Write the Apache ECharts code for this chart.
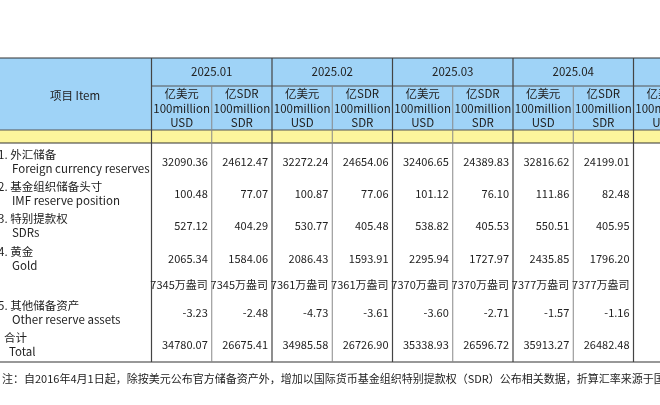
<!DOCTYPE html>
<html><head><meta charset="utf-8">
<script src="https://cdn.jsdelivr.net/npm/echarts@6/dist/echarts.min.js"></script>
<style>html,body{margin:0;padding:0;background:#fff}#c{width:660px;height:405px}</style>
</head><body><div id="c"></div>
<script>
const months = ['2025.01','2025.02','2025.03','2025.04','2025.05'];
const unitUSD = ['亿美元','100million','USD'];
const unitSDR = ['亿SDR','100million','SDR'];
const itemHeader = '项目 Item';
const rowLabelsCN = ['1. 外汇储备','2. 基金组织储备头寸','3. 特别提款权','4. 黄金','','5. 其他储备资产','合计'];
const rowLabelsEN = ['Foreign currency reserves','IMF reserve position','SDRs','Gold','','Other reserve assets','Total'];
const foreignReserves = ['32090.36','24612.47','32272.24','24654.06','32406.65','24389.83','32816.62','24199.01'];
const imfPosition = ['100.48','77.07','100.87','77.06','101.12','76.10','111.86','82.48'];
const sdrs = ['527.12','404.29','530.77','405.48','538.82','405.53','550.51','405.95'];
const gold = ['2065.34','1584.06','2086.43','1593.91','2295.94','1727.97','2435.85','1796.20'];
const goldOunces = ['7345万盎司','7345万盎司','7361万盎司','7361万盎司','7370万盎司','7370万盎司','7377万盎司','7377万盎司'];
const otherAssets = ['-3.23','-2.48','-4.73','-3.61','-3.60','-2.71','-1.57','-1.16'];
const total = ['34780.07','26675.41','34985.58','26726.90','35338.93','26596.72','35913.27','26482.48'];
const note = '注：自2016年4月1日起，除按美元公布官方储备资产外，增加以国际货币基金组织特别提款权（SDR）公布相关数据，折算汇率来源于国际货币基金组织。';

(function(){
const rows = [foreignReserves, imfPosition, sdrs, gold, goldOunces, otherAssets, total];
const rowY = [162, 194, 226, 259, 285, 313, 345];
const F = '"Noto Sans CJK SC","Noto Sans",sans-serif';
const x0 = 151.5, cw = 60.25, yTop = 58, hMid = 86, hBot = 130, yBot = 143, tBot = 362;
const g = [];
const txt = (t, x, y, align, size, color) => g.push({type:'text', style:{text:t, x, y, align:align||'center', verticalAlign:'middle', font:(size||11.5)+'px '+F, fill:color||'#222'}});
const line = (x1,y1,x2,y2,c,w) => g.push({type:'line', shape:{x1,y1,x2,y2}, style:{stroke:c||'#555', lineWidth:w||1}});
g.push({type:'rect', shape:{x:0,y:yTop,width:660,height:hBot-yTop}, style:{fill:'#9fd3f7'}});
g.push({type:'rect', shape:{x:0,y:hBot,width:660,height:yBot-hBot}, style:{fill:'#fdf59c'}});
line(0,yTop,660,yTop,'#333',1.2);
line(x0,hMid,660,hMid,'#555');
line(0,hBot,660,hBot,'#555');
line(0,yBot,660,yBot,'#333',1.2);
line(0,tBot,660,tBot,'#333',1.2);
for (let i=0;i<=9;i++){
  const x = x0 + i*cw;
  const isGroup = i%2===0;
  line(x, isGroup?yTop:hMid, x, tBot, isGroup?'#444':'#888', isGroup?1.2:1);
}
txt(itemHeader, 75, 96, 'center', 11.5);
months.forEach((m,i)=>{
  txt(m, x0 + (2*i+1)*cw, 72, 'center', 11.5);
  [unitUSD, unitSDR].forEach((u,k)=>{
    const cx = x0 + (2*i+k+0.5)*cw;
    u.forEach((s,j)=>txt(s, cx, 94 + j*14.5, 'center', 11.5));
  });
});
rowLabelsCN.forEach((s,r)=>{
  if(!s) return;
  const ind = r===6 ? 6 : 0;
  txt(s, -2+ind, rowY[r]-7, 'left', 11.5);
  txt(rowLabelsEN[r], 12-(r===6?3:0), rowY[r]+7, 'left', 11.5);
});
rows.forEach((vals,r)=>{
  vals.forEach((v,c)=>txt(v, x0 + (c+1)*cw - 4, rowY[r], 'right', 11));
});
txt(note, 2, 379, 'left', 11);
const chart = echarts.init(document.getElementById('c'), null, {renderer:'canvas'});
chart.setOption({animation:false, graphic:{elements:g}});
})();
</script></body></html>
